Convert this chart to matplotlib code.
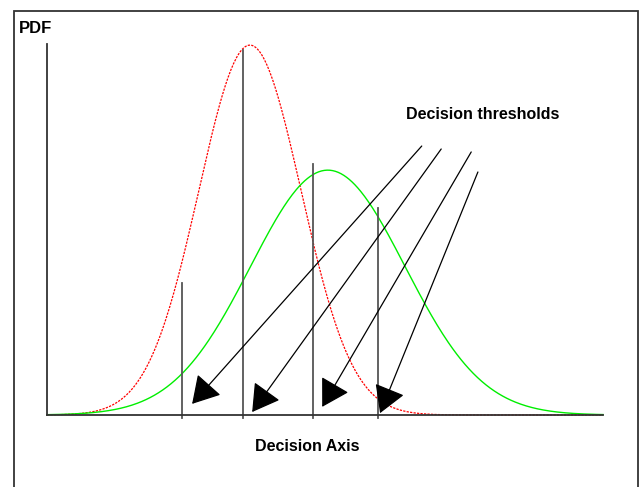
import matplotlib
matplotlib.use('Agg')
import matplotlib.pyplot as plt
import numpy as np
from matplotlib.patches import Rectangle

# ---------------------------------------------------------------------------
# Data (decision-axis units, 0..10; PDF height normalised to left-axis top = 1)
# ---------------------------------------------------------------------------
dist_means = [3.65, 5.05]          # red (dashed), green (solid)
dist_sigmas = [0.92, 1.39]
dist_peaks = [0.997, 0.66]

threshold_x = [2.43, 3.53, 4.78, 5.95]
threshold_top = [0.356, 0.984, 0.677, 0.558]

arrow_start_x = [6.74, 7.09, 7.63, 7.75]
arrow_start_y = [0.725, 0.717, 0.709, 0.655]
arrow_tip_x = [2.61, 3.69, 4.95, 5.99]
arrow_tip_y = [0.030, 0.008, 0.022, 0.005]

plt.rcParams['font.family'] = ['Liberation Sans', 'DejaVu Sans']

fig = plt.figure(figsize=(6.39, 4.87), dpi=100)
ax = fig.add_axes([47 / 639, 1 - 415 / 487, 556 / 639, 371 / 487])
ax.set_xlim(0, 10)
ax.set_ylim(0, 1)

xs = np.linspace(0, 10, 400)
styles = [dict(color='#ff0000', linestyle=(0, (1.8, 1.0)), linewidth=0.9),
          dict(color='#00ee00', linestyle='-', linewidth=1.0)]
for mu, sd, pk, st in zip(dist_means, dist_sigmas, dist_peaks, styles):
    ax.plot(xs, pk * np.exp(-0.5 * ((xs - mu) / sd) ** 2), clip_on=False, **st)

for x, top in zip(threshold_x, threshold_top):
    ax.plot([x, x], [-0.008, top], color='#555555', linewidth=1.3, clip_on=False)

for sx, sy, tx, ty in zip(arrow_start_x, arrow_start_y, arrow_tip_x, arrow_tip_y):
    ax.annotate('', xy=(tx, ty), xytext=(sx, sy),
                arrowprops=dict(arrowstyle='-|>,head_length=0.85,head_width=0.5',
                                color='black', lw=0.9, mutation_scale=20,
                                shrinkA=0, shrinkB=0))

for side in ['top', 'right']:
    ax.spines[side].set_visible(False)
for side in ['left', 'bottom']:
    ax.spines[side].set_color('#333333')
    ax.spines[side].set_linewidth(1.3)
ax.set_xticks([])
ax.set_yticks([])
ax.patch.set_visible(False)

fig.text(19 / 639, 1 - 33 / 487, 'PDF', fontsize=12, fontweight='bold', va='baseline')
fig.text(406 / 639, 1 - 119 / 487, 'Decision thresholds', fontsize=11.5,
         fontweight='bold', va='baseline')
fig.text(255 / 639, 1 - 451 / 487, 'Decision Axis', fontsize=11.5,
         fontweight='bold', va='baseline')

fig.patches.append(Rectangle((14 / 639, -0.05), 624 / 639, 1.05 - 11 / 487,
                             transform=fig.transFigure, fill=False,
                             edgecolor='#333333', linewidth=1.3))

fig.savefig('out.png', dpi=100)
